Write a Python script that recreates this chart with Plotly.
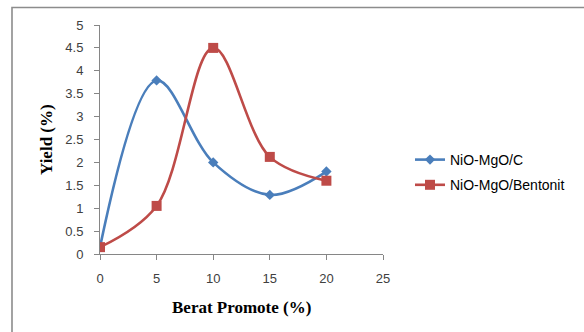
import plotly.graph_objects as go

# Promoter loading (%) and yield (%) for the two catalysts
berat = [0, 5, 10, 15, 20]
yield_c = [0.15, 3.79, 2.0, 1.29, 1.8]
yield_bentonit = [0.15, 1.05, 4.5, 2.12, 1.6]

x_ticks = [0, 5, 10, 15, 20, 25]
y_ticks = [0, 0.5, 1, 1.5, 2, 2.5, 3, 3.5, 4, 4.5, 5]
y_ticktext = ["0", "0.5", "1", "1.5", "2", "2.5", "3", "3.5", "4", "4.5", "5"]

BLUE = "#4A7EBB"
RED = "#BE4B48"
AXIS = "#868686"
TICKFONT = dict(family="Liberation Sans, Arial, sans-serif", size=13, color="#404040")
TITLEFONT = dict(family="Liberation Serif, Times New Roman, serif", size=17, color="#000")

W, H = 584, 332
ML, MR, MT, MB = 100, 201, 25, 78
pw, ph = W - ML - MR, H - MT - MB

fig = go.Figure()
fig.add_trace(go.Scatter(
    x=berat, y=yield_c, name="NiO-MgO/C", mode="lines+markers", legendgroup="c",
    line=dict(color=BLUE, width=2.6, shape="spline", smoothing=1),
    marker=dict(symbol="diamond", size=8, color=BLUE),
))
fig.add_trace(go.Scatter(
    x=berat, y=yield_bentonit, name="NiO-MgO/Bentonit", mode="lines+markers", legendgroup="b",
    line=dict(color=RED, width=2.6, shape="spline", smoothing=1),
    marker=dict(symbol="square", size=10, color=RED),
))

# Outer chart frame (runs off the right and bottom edges)
fig.add_shape(
    type="rect", xref="paper", yref="paper",
    x0=(12 - ML) / pw, x1=(W + 20 - ML) / pw,
    y0=-(H + 20 - MT - ph) / ph, y1=(MT + ph - 7.5) / ph,
    line=dict(color="#8c8c8c", width=1.6), fillcolor="rgba(0,0,0,0)", layer="below",
)

# Axis titles placed as annotations in pixel-aligned paper coordinates
fig.add_annotation(
    text="<b>Yield (%)</b>", textangle=-90, showarrow=False,
    xref="paper", yref="paper", x=(46 - ML) / pw, y=(MT + ph - 140) / ph,
    xanchor="center", yanchor="middle", font=TITLEFONT,
)
fig.add_annotation(
    text="<b>Berat Promote (%)</b>", showarrow=False,
    xref="paper", yref="paper", x=(241 - ML) / pw, y=(MT + ph - 307) / ph,
    xanchor="center", yanchor="middle", font=TITLEFONT,
)

fig.update_layout(
    width=W, height=H,
    margin=dict(l=ML, r=MR, t=MT, b=MB),
    paper_bgcolor="white", plot_bgcolor="white",
    showlegend=True,
    legend=dict(
        x=(410 - ML) / pw, y=(MT + ph - 144) / ph, xanchor="left", yanchor="top",
        font=dict(family="Liberation Sans, Arial, sans-serif", size=14, color="#000000"),
        traceorder="grouped", tracegroupgap=4, itemwidth=30, bgcolor="rgba(0,0,0,0)",
    ),
    xaxis=dict(
        range=[0, 25], tickvals=x_ticks, showgrid=False, zeroline=False,
        showline=True, linecolor=AXIS, linewidth=1,
        ticks="outside", ticklen=5, tickcolor=AXIS, tickfont=TICKFONT,
        ticklabelstandoff=7,
    ),
    yaxis=dict(
        range=[0, 5], tickvals=y_ticks, ticktext=y_ticktext, showgrid=False, zeroline=False,
        showline=True, linecolor=AXIS, linewidth=1,
        ticks="outside", ticklen=5, tickcolor=AXIS, tickfont=TICKFONT,
        ticklabelstandoff=8,
    ),
)

fig.write_html("out.html")
